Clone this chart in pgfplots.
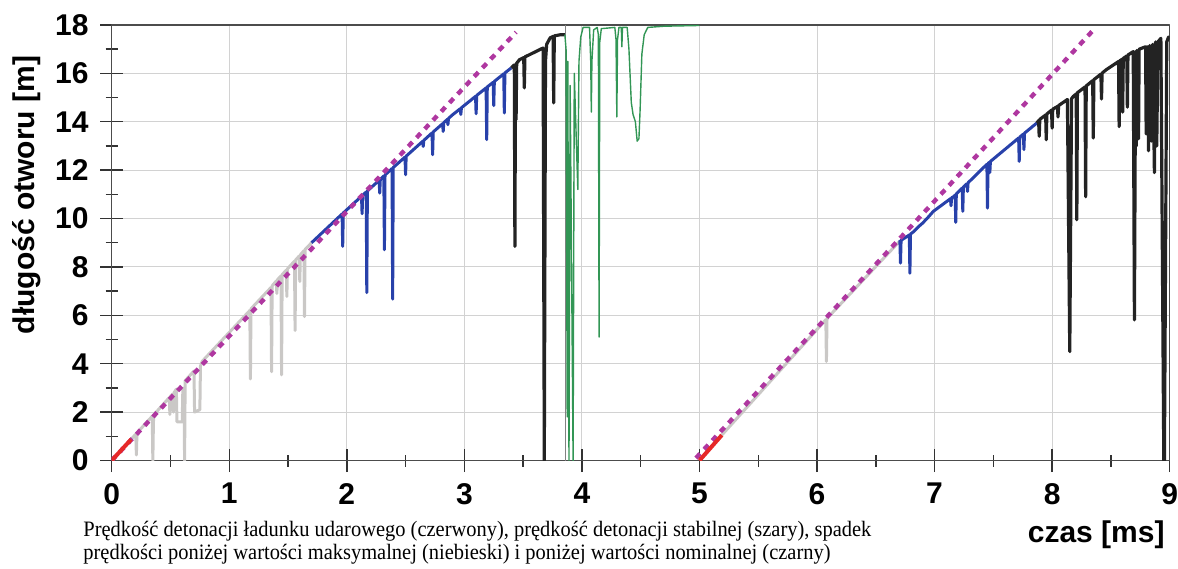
\documentclass[border=0pt]{standalone}
\usepackage{fontspec}
\setmainfont{Liberation Serif}
\setsansfont{Liberation Sans}
\newfontfamily\capfont[FakeStretch=0.93]{Liberation Serif}
\usepackage{pgfplots}
\pgfplotsset{compat=1.18}

\definecolor{cRed}{RGB}{230,40,40}
\definecolor{cGrey}{RGB}{202,200,198}
\definecolor{cBlue}{RGB}{40,65,170}
\definecolor{cBlack}{RGB}{35,35,35}
\definecolor{cGreen}{RGB}{50,150,85}
\definecolor{cMag}{RGB}{175,55,160}
\definecolor{cVline}{RGB}{130,130,130}

\begin{document}
\begin{tikzpicture}
\useasboundingbox (-55.85pt,-53.75pt) rectangle (533.15pt,230.25pt);
\begin{axis}[
  scale only axis, width=529pt, height=217.75pt,
  xmin=0, xmax=9, ymin=0, ymax=18,
  xtick={0,...,9}, ytick={0,2,...,18},
  minor x tick num=1, minor y tick num=1,
  tick align=center, major tick length=11.5pt, minor tick length=6pt,
  xtick pos=bottom, ytick pos=left,
  grid=major, major grid style={gray!35, line width=0.5pt},
  axis line style={black!70, line width=0.8pt},
  every tick/.style={black!80, line width=0.7pt},
  /pgf/number format/assume math mode=true,
  tick label style={font=\sffamily\bfseries\fontsize{15}{15}\selectfont},
  xticklabel style={yshift=-2pt},
  yticklabel style={xshift=-2.3pt},
  line join=round,
]
% szary - stabilna detonacja
\addplot[cGrey, line width=1.5pt] coordinates {
(0.16,0.85)(0.205,1.09)(0.21,0.23)(0.215,1.14)(0.345,1.83)(0.35,0)(0.355,1.6)(0.36,1.9)
(0.49,2.6)(0.495,1.9)(0.50,2.65)(0.52,2.75)(0.525,2.0)(0.53,2.8)(0.55,2.95)(0.555,1.6)
(0.60,1.6)(0.605,2.9)(0.615,3.0)(0.62,0)(0.625,3.3)(0.70,3.7)(0.705,2.0)(0.75,2.1)
(0.755,3.9)(0.77,4.1)(1.175,6.2)(1.18,3.37)(1.185,6.27)(1.355,7.15)(1.36,3.67)(1.365,7.22)
(1.40,7.42)(1.405,6.9)(1.41,7.47)(1.44,7.63)(1.445,3.54)(1.45,7.68)(1.485,7.87)(1.49,6.78)
(1.495,7.92)(1.555,8.24)(1.56,5.37)(1.565,8.29)(1.595,8.45)(1.60,7.4)(1.605,8.5)(1.635,8.67)
(1.64,5.95)(1.645,8.72)(1.70,9.0)};
\addplot[cGrey, line width=1.5pt] coordinates {
(5.19,1.05)(6.075,5.82)(6.08,4.09)(6.085,5.87)(6.70,9.05)};
% niebieski
\addplot[cBlue, line width=1.5pt] coordinates {
(1.70,9.0)(1.96,10.19)(1.965,8.85)(1.97,10.23)(2.125,10.92)(2.13,10.2)(2.135,10.96)
(2.165,11.1)(2.17,6.94)(2.175,11.14)(2.275,11.58)(2.28,11.05)(2.285,11.62)(2.315,11.76)
(2.32,8.71)(2.325,11.8)(2.385,12.07)(2.39,6.67)(2.395,12.11)(2.495,12.54)(2.50,11.81)
(2.505,12.58)(2.645,13.19)(2.65,12.98)(2.655,13.23)(2.725,13.54)(2.73,12.64)(2.735,13.58)
(2.815,13.92)(2.82,13.6)(2.825,13.96)(2.855,14.1)(2.86,13.88)(2.865,14.14)(2.90,14.29)
(2.965,14.54)(2.97,14.3)(2.975,14.58)(3.095,15.05)(3.10,14.33)(3.105,15.09)(3.185,15.4)
(3.19,13.26)(3.195,15.44)(3.245,15.63)(3.25,14.67)(3.255,15.67)(3.335,15.98)(3.34,14.36)
(3.345,16.02)(3.40,16.23)};
\addplot[cBlue, line width=1.5pt] coordinates {
(6.70,9.05)(6.705,9.07)(6.71,8.16)(6.715,9.1)(6.785,9.32)(6.79,7.74)(6.795,9.36)(6.82,9.45)
(6.86,9.65)(6.90,9.82)(6.95,10.08)(6.99,10.3)(7.135,10.82)(7.14,10.53)(7.145,10.86)(7.16,10.9)(7.175,10.97)
(7.18,9.84)(7.185,11.02)(7.235,11.26)(7.24,10.3)(7.245,11.3)(7.275,11.44)(7.28,11.12)
(7.285,11.48)(7.44,12.22)(7.445,12.24)(7.45,10.43)(7.455,12.28)(7.465,12.32)(7.47,11.9)
(7.475,12.36)(7.715,13.33)(7.72,12.36)(7.725,13.37)(7.755,13.49)(7.76,12.85)(7.765,13.53)
(7.87,13.95)};
% czarny
\addplot[cBlack, line width=1.6pt] coordinates {
(3.40,16.23)(3.425,16.35)(3.43,8.85)(3.435,16.38)(3.44,14.09)(3.445,16.42)(3.47,16.57)
(3.505,16.65)(3.51,15.4)(3.515,16.68)(3.67,17.05)(3.68,0)(3.69,16.5)(3.70,17.2)(3.73,17.47)
(3.755,17.53)(3.76,14.78)(3.765,17.55)(3.82,17.6)(3.855,17.6)};
\addplot[cBlack, line width=1.6pt] coordinates {
(7.87,13.95)(7.885,14.05)(7.89,13.4)(7.895,14.1)(7.945,14.28)(7.95,13.26)(7.955,14.32)
(7.995,14.48)(8.0,13.74)(8.005,14.52)(8.045,14.63)(8.05,14.2)(8.055,14.67)(8.13,14.92)
(8.15,4.5)(8.165,14.95)(8.18,15.05)(8.205,15.15)(8.21,9.95)(8.215,15.2)(8.28,15.44)
(8.285,10.9)(8.29,15.48)(8.345,15.7)(8.35,13.33)(8.355,15.74)(8.415,15.97)(8.42,14.94)
(8.425,16.01)(8.46,16.15)(8.565,16.49)(8.57,13.8)(8.575,16.52)(8.595,16.58)(8.60,14.4)
(8.605,16.62)(8.635,16.72)(8.64,14.6)(8.645,16.76)(8.69,16.9)(8.70,5.81)(8.71,16.9)
(8.715,13.0)(8.72,16.95)(8.735,13.3)(8.74,17.0)(8.795,17.1)(8.80,13.5)(8.81,17.1)(8.82,12.8)
(8.83,17.15)(8.845,13.2)(8.855,17.2)(8.87,11.9)(8.88,17.3)(8.89,13.0)(8.90,17.3)
(8.925,17.45)(8.95,0)(8.955,0)(8.975,17.3)(8.99,17.5)(9.0,17.45)};
% pionowa linia
\addplot[cVline, line width=0.6pt] coordinates {(3.86,0)(3.86,18)};
% zielony
\addplot[cGreen, line width=0.7pt] coordinates {
(3.855,17.6)(3.865,17.0)(3.875,1.8)(3.88,16.5)(3.89,0)(3.90,15.5)(3.925,0)(3.935,16.0)
(3.965,11.2)(3.975,16.5)(3.99,17.5)(4.01,17.9)(4.065,17.9)(4.075,16.5)(4.08,14.4)
(4.085,16.5)(4.10,17.8)(4.13,17.9)(4.14,17.6)(4.146,5.1)(4.152,17.3)(4.165,17.85)
(4.28,17.9)(4.29,17.4)(4.297,14.2)(4.303,17.4)(4.315,17.9)(4.335,17.9)(4.34,17.1)
(4.345,17.9)(4.385,17.9)(4.40,17.0)(4.42,14.8)(4.435,14.3)(4.455,14.0)(4.47,13.2)
(4.485,13.3)(4.495,14.5)(4.51,16.8)(4.53,17.6)(4.56,17.9)(4.7,17.95)(5.0,17.98)};
% linie prędkości
\addplot[cMag, line width=2.2pt, dash pattern=on 3pt off 3pt] coordinates {(0,0)(3.44,17.7)};
\addplot[cMag, line width=2.2pt, dash pattern=on 3pt off 3pt] coordinates {(4.97,0.1)(8.36,17.84)};
% czerwony
\addplot[cRed, line width=2pt] coordinates {(0,0)(0.165,0.87)};
\addplot[cRed, line width=2pt] coordinates {(5.0,0)(5.19,1.05)};
\end{axis}
\node[rotate=90, font=\sffamily\bfseries\fontsize{15}{15}\selectfont] at (-42.35pt,132.75pt) {długość otworu [m]};
\node[anchor=east, inner sep=0pt, font=\sffamily\bfseries\fontsize{15}{15}\selectfont] at (526.65pt,-37.25pt) {czas [ms]};
\node[anchor=base west, inner sep=0pt, font=\capfont\fontsize{11}{12}\selectfont] at (-14.35pt,-37.8pt) {Prędkość detonacji ładunku udarowego (czerwony), prędkość detonacji stabilnej (szary), spadek};
\node[anchor=base west, inner sep=0pt, font=\capfont\fontsize{11}{12}\selectfont] at (-14.35pt,-49.6pt) {prędkości poniżej wartości maksymalnej (niebieski) i poniżej wartości nominalnej (czarny)};
\end{tikzpicture}
\end{document}
